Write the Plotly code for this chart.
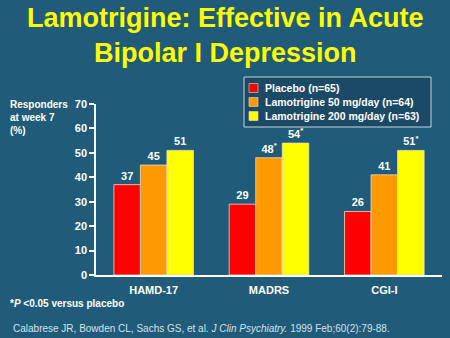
import plotly.graph_objects as go

categories = ["HAMD-17", "MADRS", "CGI-I"]
series_names = ["Placebo (n=65)", "Lamotrigine 50 mg/day (n=64)", "Lamotrigine 200 mg/day (n=63)"]
placebo = [37, 29, 26]
lam50 = [45, 48, 41]
lam200 = [51, 54, 51]
sig50 = [False, True, False]
sig200 = [False, True, True]
y_ticks = [0, 10, 20, 30, 40, 50, 60, 70]

colors = ["#ff0000", "#ff9900", "#ffff00"]
BG = "#205b7a"
FONT = "Liberation Sans, Arial, sans-serif"

W, H = 450, 338
ML, MR, MT, MB = 96, 8, 104, 63
def px(x): return (x - ML) / (W - ML - MR)
def py(y): return (H - MB - y) / (H - MT - MB)

def labels(vals, sig=None):
    out = []
    for i, v in enumerate(vals):
        s = f"<b>{v}</b>"
        if sig and sig[i]:
            s += "<sup><b>*</b></sup>"
        out.append(s)
    return out

fig = go.Figure()
for name, vals, col, sig in zip(series_names, [placebo, lam50, lam200], colors,
                                [None, sig50, sig200]):
    fig.add_trace(go.Bar(
        x=categories, y=vals, name=name,
        marker=dict(color=col, line=dict(color="#f4d8c0", width=0.8)),
        text=labels(vals, sig), textposition="outside",
        textfont=dict(color="white", size=11, family=FONT),
        cliponaxis=False,
    ))

fig.update_layout(
    width=W, height=H,
    margin=dict(l=ML, r=MR, t=MT, b=MB),
    paper_bgcolor=BG, plot_bgcolor=BG,
    barmode="group", bargap=0.31, bargroupgap=0,
    font=dict(family=FONT, color="white"),
    showlegend=False,
    xaxis=dict(
        showline=True, linecolor="white", linewidth=1.5,
        tickfont=dict(size=11, color="white", family=FONT),
        ticks="", showgrid=False, ticklabelstandoff=4,
        tickvals=categories, ticktext=[f"<b>{c}</b>" for c in categories],
    ),
    yaxis=dict(
        range=[0, 70], tickvals=y_ticks,
        ticktext=[f"<b>{t}</b>" for t in y_ticks],
        showline=True, linecolor="white", linewidth=1.5,
        ticks="outside", tickcolor="white", ticklen=5, tickwidth=1.5,
        tickfont=dict(size=11, color="white", family=FONT),
        showgrid=False, zeroline=False,
    ),
)

# Title
fig.add_annotation(text="<b>Lamotrigine: Effective in Acute<br>Bipolar I Depression</b>",
                   x=px(225), y=py(1), xref="paper", yref="paper", xanchor="center", yanchor="top",
                   showarrow=False, font=dict(size=27, color="#ffff00", family=FONT))
# Y axis title
fig.add_annotation(text="<b>Responders<br>at week 7<br>(%)</b>", x=px(8), y=py(97),
                   xref="paper", yref="paper", xanchor="left", yanchor="top",
                   showarrow=False, align="left",
                   font=dict(size=10, color="white", family=FONT))
# Footnotes
fig.add_annotation(text="<b>*<i>P</i> <0.05 versus placebo</b>", x=px(8), y=py(296),
                   xref="paper", yref="paper", xanchor="left", yanchor="top",
                   showarrow=False, align="left",
                   font=dict(size=10, color="white", family=FONT))
fig.add_annotation(text="Calabrese JR, Bowden CL, Sachs GS, et al. <i>J Clin Psychiatry.</i> 1999 Feb;60(2):79-88.",
                   x=px(11), y=py(321), xref="paper", yref="paper", xanchor="left", yanchor="top",
                   showarrow=False, align="left",
                   font=dict(size=10, color="#d6e0e8", family=FONT))

# Legend (drawn manually to match compact box)
fig.add_shape(type="rect", xref="paper", yref="paper",
              x0=px(244), x1=px(431), y0=py(127), y1=py(77),
              fillcolor="#1b4a66", line=dict(color="#c8d4dc", width=1))
for i, (name, col) in enumerate(zip(series_names, colors)):
    yc = 88 + 14 * i
    fig.add_shape(type="rect", xref="paper", yref="paper",
                  x0=px(249), x1=px(258), y0=py(yc + 4.5), y1=py(yc - 4.5),
                  fillcolor=col, line=dict(color="#f4d8c0", width=0.6))
    fig.add_annotation(text=f"<b>{name}</b>", x=px(263), y=py(yc),
                       xref="paper", yref="paper", xanchor="left", yanchor="middle",
                       showarrow=False, font=dict(size=10.5, color="white", family=FONT))

fig.write_html("out.html")
